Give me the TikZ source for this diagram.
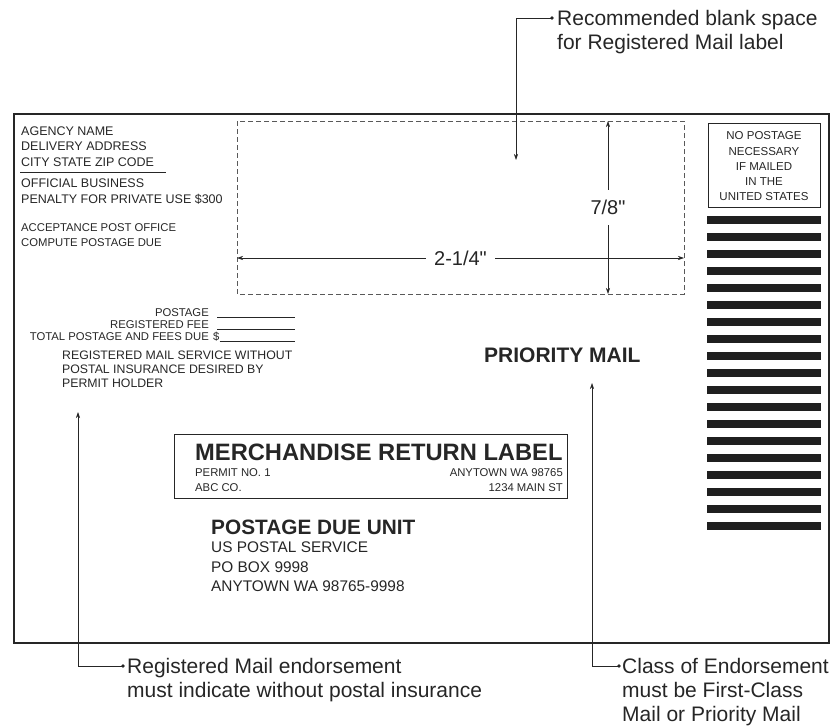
\documentclass[tikz,border=0pt]{standalone}
\usepackage{fontspec}
\setmainfont{Liberation Sans}
\newfontfamily\dimfont{Liberation Sans}[Ligatures=TeXOff]
\usetikzlibrary{arrows.meta}

\begin{document}
\begin{tikzpicture}[x=1pt, y=-1pt, >={Stealth[length=6pt, width=4pt]},
    ink/.style={black!85},
    txt/.style={ink, inner sep=0pt, align=left},
    small/.style={txt, font=\fontsize{11.3}{15}\selectfont},
    note/.style={txt, font=\fontsize{21}{24}\selectfont},
    leader/.style={ink, line width=0.6pt},
    dim/.style={ink, line width=0.6pt, <->},
    dimlabel/.style={fill=white, text=black!85, font=\dimfont\fontsize{20}{24}\selectfont}]

      \useasboundingbox (0, 0) rectangle (831, 728);

      % envelope
      \draw [ink, line width=1.6pt] (14, 114) rectangle (829, 643);

      % return address
      \node [txt, anchor=west, font=\fontsize{12.5}{15.5}\selectfont] (agency) at (21, 146.5)
            {AGENCY NAME\\DELIVERY ADDRESS\\CITY STATE ZIP CODE};
      \draw [ink, line width=0.7pt] (20, 172) -- (166, 172);
      \node [txt, anchor=west, font=\fontsize{12.5}{16}\selectfont] (official) at (21, 191.5)
            {OFFICIAL BUSINESS\\PENALTY FOR PRIVATE USE \$300};
      \node [small, anchor=west] (acceptance) at (21, 235.5)
            {ACCEPTANCE POST OFFICE\\COMPUTE POSTAGE DUE};

      % fees
      \node [txt, align=right, anchor=east, font=\fontsize{11.3}{12}\selectfont] (fees) at (209, 325)
            {POSTAGE\\REGISTERED FEE\\TOTAL POSTAGE AND FEES DUE};
      \node [small, anchor=west] (dollar) at (213, 337) {\$};
      \draw [ink, line width=0.5pt] (217, 317) -- (295, 317);
      \draw [ink, line width=0.5pt] (217, 329) -- (295, 329);
      \draw [ink, line width=0.5pt] (dollar.east |- 0, 341) -- (295, 341);

      \node [txt, anchor=west, font=\fontsize{12.3}{14}\selectfont] (service) at (62, 369)
            {REGISTERED MAIL SERVICE WITHOUT\\POSTAL INSURANCE DESIRED BY\\PERMIT HOLDER};

      % stamp
      \node [txt, align=center, font=\fontsize{11.5}{15.25}\selectfont] (stamp) at (764, 166.5)
            {NO POSTAGE\\NECESSARY\\IF MAILED\\IN THE\\UNITED STATES};
      \draw [ink, line width=0.8pt] (708, 123) rectangle (820, 207);
      \foreach \i in {0,...,18}
        \fill [black!88] (707, 216 + 17*\i) rectangle (821, 224 + 17*\i);

      % blank space for label
      \draw [black!65, line width=0.8pt, dash pattern=on 5pt off 3pt] (237, 121) rectangle (684, 294);
      \coordinate (wl) at (237, 258);
      \coordinate (wr) at (684, 258);
      \coordinate (ht) at (608, 121);
      \coordinate (hb) at (608, 294);
      \draw [dim] (wl) -- node[dimlabel, inner xsep=8pt, inner ysep=2pt] (width) {2-1/4"} (wr);
      \draw [dim] (ht) -- node[dimlabel, inner xsep=2pt, inner ysep=10pt] (height) {7/8"} (hb);

      % class
      \node [txt, anchor=west, font=\bfseries\fontsize{21}{24}\selectfont] (prio) at (484, 355) {PRIORITY MAIL};

      % merchandise return label
      \draw [ink, line width=1pt] (174, 434) rectangle (567, 498);
      \node [txt, anchor=west, font=\bfseries\fontsize{23.7}{26}\selectfont] (mrl) at (195, 452)
            {MERCHANDISE RETURN LABEL};
      \node [small, anchor=west] (permit) at (195, 480.5) {PERMIT NO. 1\\ABC CO.};
      \node [small, align=right, anchor=east] (town) at (563, 480.5) {ANYTOWN WA 98765\\1234 MAIN ST};

      % delivery address
      \node [txt, anchor=west, font=\bfseries\fontsize{20.8}{24}\selectfont] (pdu) at (211, 527) {POSTAGE DUE UNIT};
      \node [txt, anchor=west, font=\fontsize{15.4}{19.5}\selectfont] (usps) at (211, 567)
            {US POSTAL SERVICE\\PO BOX 9998\\ANYTOWN WA 98765-9998};

      % callouts
      \coordinate (tipblank) at (516, 160);
      \coordinate (dotblank) at (552, 18);
      \fill [ink] (dotblank) circle (1.8pt);
      \draw [leader, ->] (dotblank) -| (tipblank);
      \node [note, anchor=west] (blanknote) at (557, 32)
            {Recommended blank space\\for Registered Mail label};

      \coordinate (tipreg) at (78, 412);
      \coordinate (dotreg) at (123, 666);
      \fill [ink] (dotreg) circle (1.8pt);
      \draw [leader, ->] (dotreg) -| (tipreg);
      \node [note, anchor=west] (regnote) at (127, 680)
            {Registered Mail endorsement\\must indicate without postal insurance};

      \coordinate (tipprio) at (592, 383);
      \coordinate (dotprio) at (619, 666);
      \fill [ink] (dotprio) circle (1.8pt);
      \draw [leader, ->] (dotprio) -| (tipprio);
      \node [note, anchor=west] (prionote) at (622, 692)
            {Class of Endorsement\\must be First-Class\\Mail or Priority Mail};
    \end{tikzpicture}
\end{document}
